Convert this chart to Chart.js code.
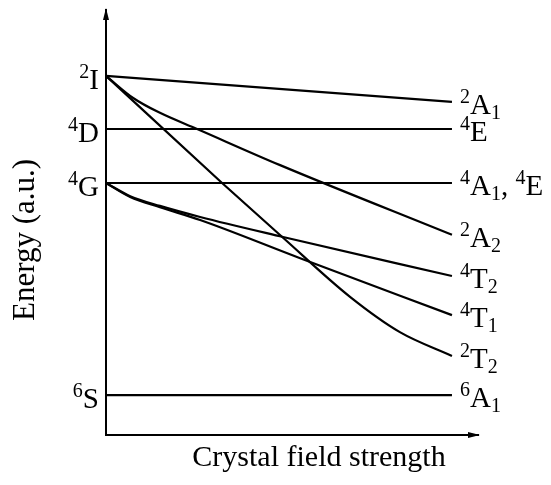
<!DOCTYPE html>
<html>
<head>
<meta charset="utf-8">
<script src="https://cdn.jsdelivr.net/npm/chart.js@4/dist/chart.umd.min.js"></script>
<style>
  html, body { margin: 0; padding: 0; background: #fff; }
  #wrap { width: 551px; height: 485px; }
</style>
</head>
<body>
<div id="wrap"><canvas id="chart"></canvas></div>
<script>
// x = crystal field strength (a.u.), y = energy (a.u.)
const flatX = [0, 0.93];
const a1Top = [8.45, 7.84];     // 2I -> 2A1
const e4D = [7.2, 7.2];         // 4D -> 4E
const a1e4G = [5.93, 5.93];     // 4G -> 4A1, 4E
const a16S = [0.94, 0.94];      // 6S -> 6A1

const a2X = [0, 0.073, 0.145, 0.245, 0.468, 0.93];   // 2I -> 2A2
const a2Y = [8.45, 7.93, 7.58, 7.2, 6.35, 4.71];
const t22X = [0, 0.312, 0.476, 0.656, 0.79, 0.93];   // 2I -> 2T2
const t22Y = [8.45, 5.93, 4.64, 3.25, 2.42, 1.86];
const t42X = [0, 0.065, 0.145, 0.253, 0.476, 0.93];  // 4G -> 4T2
const t42Y = [5.93, 5.62, 5.39, 5.13, 4.66, 3.74];
const t41X = [0, 0.065, 0.145, 0.253, 0.522, 0.93];  // 4G -> 4T1
const t41Y = [5.93, 5.6, 5.36, 5.06, 4.16, 2.82];

// free-ion terms on the left
const leftSup = ["2", "4", "4", "6"];
const leftMain = ["I", "D", "G", "S"];
const leftLevel = [8.45, 7.2, 5.93, 0.94];

// crystal field terms on the right, [text, kind]
const rightTerms = [
  [["2", "sup"], ["A", "n"], ["1", "sub"]],
  [["4", "sup"], ["E", "n"]],
  [["4", "sup"], ["A", "n"], ["1", "sub"], [", ", "n"], ["4", "sup"], ["E", "n"]],
  [["2", "sup"], ["A", "n"], ["2", "sub"]],
  [["4", "sup"], ["T", "n"], ["2", "sub"]],
  [["4", "sup"], ["T", "n"], ["1", "sub"]],
  [["2", "sup"], ["T", "n"], ["2", "sub"]],
  [["6", "sup"], ["A", "n"], ["1", "sub"]],
];
const rightLevel = [7.84, 7.2, 5.93, 4.71, 3.74, 2.82, 1.86, 0.94];

const xTitle = "Crystal field strength";
const yTitle = "Energy (a.u.)";

const SERIF = '"Liberation Serif", "DejaVu Serif", serif';

function pts(xs, ys) { return xs.map((x, i) => ({ x: x, y: ys[i] })); }

function line(xs, ys, curved) {
  return {
    data: pts(xs, ys),
    borderColor: "#000",
    borderWidth: 2.2,
    pointRadius: 0,
    fill: false,
    clip: false,
    tension: 0,
    cubicInterpolationMode: curved ? "monotone" : "default",
  };
}

function fontFor(kind) { return kind === "n" ? "29px " + SERIF : "20px " + SERIF; }

function drawRich(ctx, parts, x, y, align) {
  let w = 0;
  parts.forEach(p => { ctx.font = fontFor(p[1]); w += ctx.measureText(p[0]).width; });
  let cx = align === "right" ? x - w : x;
  parts.forEach(p => {
    ctx.font = fontFor(p[1]);
    const dy = p[1] === "sup" ? -11 : p[1] === "sub" ? 5 : 0;
    ctx.fillText(p[0], cx, y + dy);
    cx += ctx.measureText(p[0]).width;
  });
}

const termLabels = {
  id: "termLabels",
  afterDraw(chart) {
    const ctx = chart.ctx;
    const a = chart.chartArea;
    const ys = chart.scales.y;
    const xs = chart.scales.x;
    ctx.save();
    ctx.fillStyle = "#000";
    ctx.textAlign = "left";
    ctx.textBaseline = "alphabetic";

    // arrowheads
    ctx.beginPath();
    ctx.moveTo(a.left, a.top - 2);
    ctx.lineTo(a.left - 3, a.top + 10);
    ctx.lineTo(a.left + 3, a.top + 10);
    ctx.closePath();
    ctx.fill();
    ctx.beginPath();
    ctx.moveTo(a.right + 2, a.bottom);
    ctx.lineTo(a.right - 10, a.bottom - 3);
    ctx.lineTo(a.right - 10, a.bottom + 3);
    ctx.closePath();
    ctx.fill();

    leftMain.forEach((m, i) => {
      const py = ys.getPixelForValue(leftLevel[i]);
      drawRich(ctx, [[leftSup[i], "sup"], [m, "n"]], a.left - 7, py + 13, "right");
    });
    const endX = xs.getPixelForValue(flatX[1]);
    rightTerms.forEach((parts, i) => {
      const py = ys.getPixelForValue(rightLevel[i]);
      drawRich(ctx, parts, endX + 8, py + 12, "left");
    });

    ctx.font = "30px " + SERIF;
    ctx.textAlign = "center";
    ctx.fillText(xTitle, 319, 466);
    ctx.font = "31px " + SERIF;
    ctx.translate(34, 240);
    ctx.rotate(-Math.PI / 2);
    ctx.fillText(yTitle, 0, 0);
    ctx.restore();
  }
};

new Chart(document.getElementById("chart"), {
  type: "line",
  data: {
    datasets: [
      line(flatX, a1Top, false),
      line(flatX, e4D, false),
      line(flatX, a1e4G, false),
      line(flatX, a16S, false),
      line(a2X, a2Y, true),
      line(t22X, t22Y, true),
      line(t42X, t42Y, true),
      line(t41X, t41Y, true),
    ],
  },
  options: {
    responsive: true,
    maintainAspectRatio: false,
    animation: false,
    devicePixelRatio: 1,
    layout: { padding: { left: 106, right: 73, top: 10, bottom: 50 } },
    plugins: { legend: { display: false }, tooltip: { enabled: false } },
    scales: {
      x: {
        type: "linear", min: 0, max: 1,
        grid: { display: false, drawTicks: false },
        ticks: { display: false },
        border: { display: true, color: "#000", width: 2 },
      },
      y: {
        type: "linear", min: 0, max: 10,
        grid: { display: false, drawTicks: false },
        ticks: { display: false },
        border: { display: true, color: "#000", width: 2 },
      },
    },
  },
  plugins: [termLabels],
});
</script>
</body>
</html>
